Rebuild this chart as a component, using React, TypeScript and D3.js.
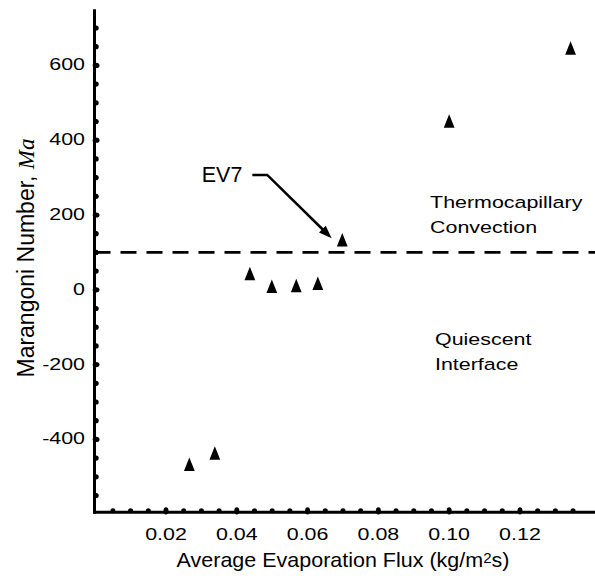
import React from "react";
import * as d3 from "d3";

const fluxValues = [0.0266, 0.0338, 0.0437, 0.0499, 0.0568, 0.0629, 0.0698, 0.1, 0.1343];
const marangoniValues = [-467, -437, 43, 9, 11, 17, 133, 451, 646];
const xTickValues = [0.02, 0.04, 0.06, 0.08, 0.1, 0.12];
const yTickValues = [-400, -200, 0, 200, 400, 600];
const criticalMa = 100;
const upperLabel = ["Thermocapillary", "Convection"];
const upperLabelPos = [0.0946, 218];
const lowerLabel = ["Quiescent", "Interface"];
const lowerLabelPos = [0.096, -148];
const annotationText = "EV7";
const annotationTextPos = [0.0301, 287];
const annotationPath = [
  [0.0444, 307],
  [0.0486, 307],
  [0.0668, 138],
];

const W = 595;
const H = 579;
const FONT = "'Liberation Sans', Arial, Helvetica, sans-serif";

export default function App() {
  const x = d3.scaleLinear().domain([0, 0.1412]).range([95.2, 595]);
  const y = d3.scaleLinear().domain([-600, 750]).range([514.2, 9.3]);
  const axisX = x(0) - 0.7;
  const axisY = 512.3;
  const fmt = d3.format(".2f");

  const xMinor = d3.range(1, 28).map((i) => i * 0.005);
  const yMinor = d3.range(-11, 15).map((i) => i * 50);
  const isMajorX = (v: number) => xTickValues.some((t) => Math.abs(t - v) < 1e-9);
  const isMajorY = (v: number) => yTickValues.some((t) => Math.abs(t - v) < 1e-9);

  const tri = (cx: number, cy: number) =>
    `M${cx},${cy - 7} L${cx + 5.4},${cy + 6.5} L${cx - 5.4},${cy + 6.5} Z`;

  const pts = annotationPath.map(([a, b]) => [x(a), y(b)]);
  const [tx, ty] = pts[pts.length - 1];
  const [px, py] = pts[pts.length - 2];
  const ang = Math.atan2(ty - py, tx - px);
  const headLen = 13;
  const headW = 4.8;
  const bx = tx - headLen * Math.cos(ang);
  const by = ty - headLen * Math.sin(ang);
  const head = `M${tx},${ty} L${bx + headW * Math.sin(ang)},${by - headW * Math.cos(ang)} L${bx - headW * Math.sin(ang)},${by + headW * Math.cos(ang)} Z`;
  const linePts = pts.slice(0, -1).concat([[tx - (headLen - 2) * Math.cos(ang), ty - (headLen - 2) * Math.sin(ang)]]);
  const line = d3.line()(linePts as [number, number][]);

  const sx = 1.26;

  return (
    <svg
      width={W}
      height={H}
      style={{ position: "absolute", left: 0, top: 0, display: "block", background: "#fff" }}
    >
      <rect width={W} height={H} fill="#fff" />
      {/* critical Ma dashed line */}
      <line
        x1={axisX}
        x2={W}
        y1={y(criticalMa)}
        y2={y(criticalMa)}
        stroke="#000"
        strokeWidth={2.8}
        strokeDasharray="16 10"
      />
      {/* axes */}
      <line x1={axisX} x2={axisX} y1={y(750)} y2={axisY + 1.5} stroke="#000" strokeWidth={3} />
      <line x1={axisX - 1.5} x2={W} y1={axisY} y2={axisY} stroke="#000" strokeWidth={3} />
      {xMinor.map((v, i) => (
        <ellipse
          key={"xd" + i}
          cx={x(v)}
          cy={axisY - 1.5}
          rx={2.5}
          ry={isMajorX(v) ? 3.6 : 2.5}
          fill="#000"
        />
      ))}
      {yMinor.map((v, i) => (
        <ellipse
          key={"yd" + i}
          cx={axisX + 1.6}
          cy={y(v)}
          rx={isMajorY(v) ? 3.4 : 2.6}
          ry={2.6}
          fill="#000"
        />
      ))}
      {/* tick labels */}
      {xTickValues.map((t, i) => (
        <text
          key={"xt" + i}
          transform={`translate(${x(t)},540) scale(${sx},1)`}
          textAnchor="middle"
          fontFamily={FONT}
          fontSize={17}
          fill="#000"
        >
          {fmt(t)}
        </text>
      ))}
      {yTickValues.map((t, i) => (
        <text
          key={"yt" + i}
          transform={`translate(85,${y(t) + 5}) scale(${sx},1)`}
          textAnchor="end"
          fontFamily={FONT}
          fontSize={17}
          fill="#000"
        >
          {t}
        </text>
      ))}
      {/* axis titles */}
      <text
        transform={`translate(343,567) scale(1.075,1)`}
        textAnchor="middle"
        fontFamily={FONT}
        fontSize={20}
        fill="#000"
      >
        Average Evaporation Flux (kg/m
        <tspan fontSize={14} dy={-4}>2</tspan>
        <tspan dy={4}>s)</tspan>
      </text>
      <text
        transform={`translate(34,258) rotate(-90)`}
        textAnchor="middle"
        fontFamily={FONT}
        fontSize={23}
        fill="#000"
      >
        Marangoni Number,{" "}
        <tspan fontFamily="'Liberation Serif', 'Times New Roman', serif" fontStyle="italic">
          Ma
        </tspan>
      </text>
      {/* region labels */}
      {upperLabel.map((s, i) => (
        <text
          key={"ul" + i}
          transform={`translate(${x(upperLabelPos[0])},${y(upperLabelPos[1]) + i * 25}) scale(${sx},1)`}
          fontFamily={FONT}
          fontSize={17}
          fill="#000"
        >
          {s}
        </text>
      ))}
      {lowerLabel.map((s, i) => (
        <text
          key={"ll" + i}
          transform={`translate(${x(lowerLabelPos[0])},${y(lowerLabelPos[1]) + i * 25}) scale(${sx},1)`}
          fontFamily={FONT}
          fontSize={17}
          fill="#000"
        >
          {s}
        </text>
      ))}
      {/* annotation */}
      <text
        x={x(annotationTextPos[0])}
        y={y(annotationTextPos[1])}
        fontFamily={FONT}
        fontSize={21.5}
        fill="#000"
      >
        {annotationText}
      </text>
      <path d={line || ""} fill="none" stroke="#000" strokeWidth={2.5} />
      <path d={head} fill="#000" />
      {/* data points */}
      {fluxValues.map((f, i) => (
        <path key={"p" + i} d={tri(x(f), y(marangoniValues[i]))} fill="#000" />
      ))}
    </svg>
  );
}
